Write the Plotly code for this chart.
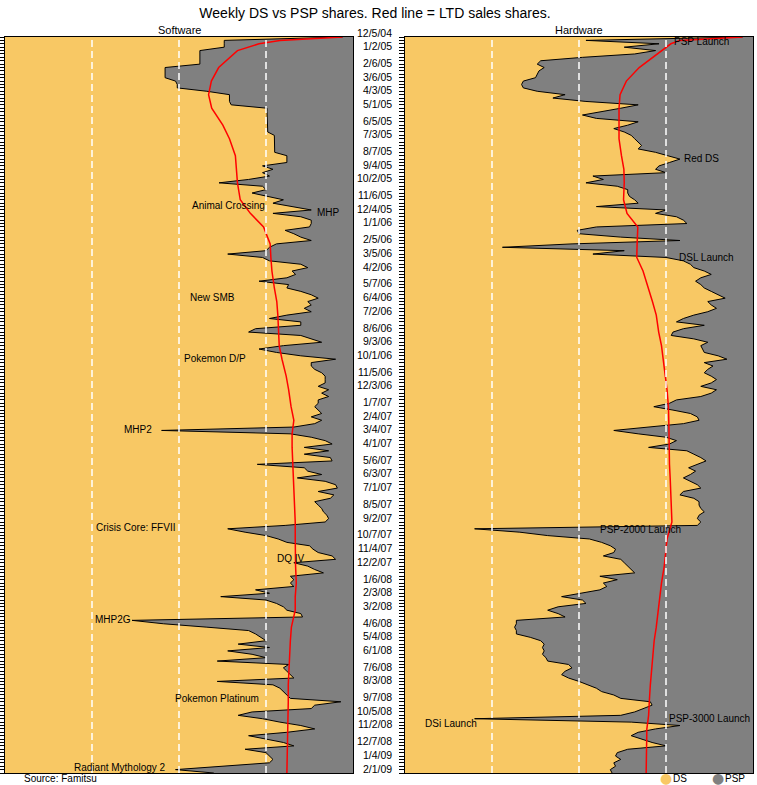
import plotly.graph_objects as go
import pandas as pd

# ---------------- data ----------------
start_date = "12/5/04"
n_weeks = 218

tick_labels = ["12/5/04", "1/2/05", "2/6/05", "3/6/05", "4/3/05", "5/1/05", "6/5/05", "7/3/05",
               "8/7/05", "9/4/05", "10/2/05", "11/6/05", "12/4/05", "1/1/06", "2/5/06", "3/5/06",
               "4/2/06", "5/7/06", "6/4/06", "7/2/06", "8/6/06", "9/3/06", "10/1/06", "11/5/06",
               "12/3/06", "1/7/07", "2/4/07", "3/4/07", "4/1/07", "5/6/07", "6/3/07", "7/1/07",
               "8/5/07", "9/2/07", "10/7/07", "11/4/07", "12/2/07", "1/6/08", "2/3/08", "3/2/08",
               "4/6/08", "5/4/08", "6/1/08", "7/6/08", "8/3/08", "9/7/08", "10/5/08", "11/2/08",
               "12/7/08", "1/4/09", "2/1/09"]

# weekly DS share of DS+PSP software sales (%)
sw_ds = [97, 63, 63, 63, 56, 56, 56, 56, 56, 46,
         46, 46, 46, 49, 49.5, 49.5, 58, 64.5, 64.5, 64.5,
         65, 75.3, 75.3, 75.3, 75.3, 75.3, 75.3, 75.5, 75.5, 77.4,
         77.4, 77.4, 77.4, 77.4, 77.5, 81, 81, 81, 74, 77,
         74, 76, 70, 61.5, 74, 75, 71, 76, 80, 77,
         82, 88, 77, 85, 88, 88, 87.5, 80.5, 83, 85,
         88, 78, 76, 75, 64, 74, 76, 85, 87, 82.5,
         83.5, 81, 73, 81.5, 81, 85, 88, 90, 87, 88,
         86, 88, 81, 76, 85, 85, 72, 70, 85, 88,
         91, 80, 73, 78, 85, 95, 88, 88, 89, 91,
         92, 92, 92, 90, 93, 91, 93, 90, 90, 89,
         90, 91, 88, 91, 89, 83, 45, 82, 88, 92,
         94, 86, 93, 86, 93.5, 94, 72.5, 86, 87, 91,
         84, 92, 95, 95.5, 90, 94.5, 93.5, 89, 90, 91,
         91.5, 92.5, 93, 92, 80.5, 64, 69, 75, 78.5, 81,
         87.5, 88.5, 90, 94, 95, 83, 87, 89, 91.5, 82,
         83, 82, 83, 72, 76, 62, 75, 78, 80, 81,
         85, 85.5, 36.5, 45.5, 58, 70, 72, 73.5, 75, 67,
         76, 64, 71, 75, 61, 81.5, 80, 81, 82, 83,
         61, 77, 79, 80, 81, 82, 96.5, 89, 88, 71,
         67, 74, 79, 85, 89, 81, 70, 75, 80, 83,
         69, 75, 76, 77, 76, 62, 49, 60]

# weekly DS share of DS+PSP hardware sales (%)
hw_ds = [97, 52, 73, 63, 72, 66, 51, 39, 38, 40,
         38.5, 38, 37.5, 34, 33.5, 34, 38, 46, 42.5, 52,
         67, 62, 57, 51, 55, 67, 64, 60, 63, 65,
         66, 67, 68, 67, 72, 75.5, 79, 76, 73, 72,
         75, 54, 57, 52, 61, 64, 64, 64.5, 66, 67,
         55, 75, 72, 78, 80, 81, 55, 49.5, 50, 62,
         79, 48, 28, 63, 54, 75, 80, 82, 83, 86,
         88, 85, 83.5, 85, 86, 88, 90, 92, 87, 88,
         89.5, 87, 83, 80, 78, 86, 80, 77, 76.5, 83,
         87, 85, 85.5, 86, 90, 92.5, 86, 88.5, 87, 86,
         88, 89.5, 88, 85, 89.5, 88, 85, 78, 76, 71.5,
         77, 82, 84, 84.5, 80, 70, 60, 67, 75, 78,
         76, 70, 81, 83, 85, 86.5, 84, 81.5, 83.5, 82,
         80, 82, 84, 85, 80, 79, 83, 84.5, 84.5, 85,
         86, 84.5, 84, 85, 84, 20, 33, 41, 53, 56.5,
         59, 60.5, 60, 57, 62, 63, 64, 65, 66, 56,
         61, 57, 58, 56, 51, 45, 51, 52, 44, 41,
         44, 46, 32, 32, 31.5, 32, 32, 36, 39, 40,
         39.5, 40, 39.5, 40.5, 41, 47, 48, 46, 45, 47,
         50, 52.5, 55, 56.5, 60, 62, 70.5, 71, 68.5, 66,
         62, 20, 65, 79, 72, 67, 65, 68, 71, 75,
         64, 61, 60.5, 62, 60, 60.5, 59, 59.5]

# life-to-date DS share (%)
ltd_dates = ["12/5/04", "12/12/04", "12/19/04"] + tick_labels[1:]
ltd_sw = [97, 79, 73, 66.8, 61.4, 59.3, 58.5, 59.4, 62.6, 64.5, 66.2, 66.6, 66.8, 67.6, 70.5,
          74.3, 76.2, 76.4, 76.7, 77.4, 78.1, 78.4, 78.6, 78.8, 79.6, 80.8, 81.5,
          82.2, 83.0, 82.5, 82.5, 82.7, 82.9, 83.0, 83.2, 83.4, 83.4, 83.4, 83.5,
          83.7, 83.4, 83.4, 82.3, 82.0, 81.8, 81.6, 81.4, 81.4, 81.3, 81.3, 81.2, 81.1, 81.0]
ltd_hw = [97, 79, 76.4, 73.8, 67.3, 63.6, 61.8, 61.5, 61.4, 61.5, 62.2, 62.9, 63.0, 62.8, 63.8,
          66.9, 66.7, 66.6, 68.4, 70.0, 71.1, 72.2, 72.9, 73.7, 74.1, 74.8, 75.3,
          75.7, 75.8, 75.8, 75.8, 76.0, 76.2, 76.4, 76.6, 76.7, 75.3, 74.9, 74.5,
          73.7, 73.3, 72.8, 72.2, 71.6, 71.2, 70.8, 70.5, 70.2, 70.0, 69.5, 69.5, 69.4, 69.3]

grid_shares = [25, 50, 75]

# event labels: (text, share position, week position)
sw_events = [("Animal Crossing", 64.1, 49.6), ("MHP", 93.1, 51.6), ("New SMB", 59.6, 76.7),
             ("Pokemon D/P", 60.3, 94.7), ("MHP2", 38.2, 115.6), ("Crisis Core: FFVII", 37.6, 144.5),
             ("DQ IV", 82.2, 153.7), ("MHP2G", 30.9, 171.7), ("Pokemon Platinum", 60.8, 195.0),
             ("Radiant Mythology 2", 33.0, 215.3)]
hw_events = [("PSP Launch", 85.1, 1.3), ("Red DS", 85.2, 35.7), ("DSL Launch", 86.5, 64.9),
             ("PSP-2000 Launch", 67.8, 145.1), ("DSi Launch", 13.1, 202.4),
             ("PSP-3000 Launch", 87.4, 200.9)]

# ---------------- helpers ----------------
t0 = pd.to_datetime(start_date, format="%m/%d/%y")


def week_of(s):
    return (pd.to_datetime(s, format="%m/%d/%y") - t0).days / 7.0


weeks = list(range(n_weeks))
tick_weeks = [week_of(s) for s in tick_labels]
ltd_weeks = [week_of(s) for s in ltd_dates]

DS_COL = "#F8C864"
PSP_COL = "#808080"
FONT = "Liberation Sans, Arial, sans-serif"

fig = go.Figure()

for data, ltd, xa, ya in [(sw_ds, ltd_sw, "x", "y"), (hw_ds, ltd_hw, "x2", "y2")]:
    fig.add_trace(go.Scatter(x=data, y=weeks, mode="lines", fill="tozerox",
                             fillcolor=DS_COL, line=dict(color="black", width=1),
                             xaxis=xa, yaxis=ya, showlegend=False, hoverinfo="skip"))
    fig.add_trace(go.Scatter(x=ltd, y=ltd_weeks, mode="lines",
                             line=dict(color="red", width=1.5),
                             xaxis=xa, yaxis=ya, showlegend=False, hoverinfo="skip"))

W, H = 757, 785
ml, mr, mt, mb = 5, 4, 37, 12
pw = W - ml - mr
ph = H - mt - mb


def px_to_paper_x(px):
    return (px - ml) / pw


def px_to_paper_y(py):
    return (H - mb - py) / ph


left_dom = [0, px_to_paper_x(353)]
right_dom = [px_to_paper_x(405), 1]

ax_common = dict(range=[0, 100], showgrid=False, zeroline=False, showticklabels=False,
                 ticks="", showline=True, mirror=True, linecolor="black", linewidth=1,
                 fixedrange=True, automargin=False)
yax_common = dict(range=[n_weeks - 1, 0], showgrid=False, zeroline=False, showticklabels=False,
                  tickmode="linear", tick0=0, dtick=1, ticks="outside", ticklen=5,
                  tickcolor="black", tickwidth=1, showline=True, mirror=True,
                  linecolor="black", linewidth=1, fixedrange=True, automargin=False)

shapes = []
for xr in ["x", "x2"]:
    for g in grid_shares:
        shapes.append(dict(type="line", xref=xr, yref="paper", x0=g, x1=g, y0=0, y1=1,
                           line=dict(color="white", width=1.5, dash="7px,4px"), layer="above"))

annotations = []
for text, xs, wk in sw_events:
    annotations.append(dict(text=text, x=xs, y=wk, xref="x", yref="y", showarrow=False,
                            font=dict(size=10, color="black", family=FONT)))
for text, xs, wk in hw_events:
    annotations.append(dict(text=text, x=xs, y=wk, xref="x2", yref="y2", showarrow=False,
                            font=dict(size=10, color="black", family=FONT)))

# date labels between panels (right aligned)
for lab, wk in zip(tick_labels, tick_weeks):
    annotations.append(dict(text=lab, x=px_to_paper_x(394), y=wk, xref="paper", yref="y",
                            xanchor="right", showarrow=False, yshift=4.5,
                            font=dict(size=10.5, color="black", family=FONT)))

# panel titles
annotations.append(dict(text="Software", x=0.5, y=1, xref="x domain", yref="paper",
                        yanchor="bottom", showarrow=False, yshift=-1,
                        font=dict(size=11, color="black", family=FONT)))
annotations.append(dict(text="Hardware", x=0.5, y=1, xref="x2 domain", yref="paper",
                        yanchor="bottom", showarrow=False, yshift=-1,
                        font=dict(size=11, color="black", family=FONT)))

# source
annotations.append(dict(text="Source: Famitsu", x=px_to_paper_x(22), y=px_to_paper_y(778),
                        xref="paper", yref="paper", xanchor="left", yanchor="middle",
                        showarrow=False, font=dict(size=10, color="black", family=FONT)))

# legend
for sym_x, col, txt, txt_x in [(666, DS_COL, "DS", 671), (718, PSP_COL, "PSP", 723)]:
    annotations.append(dict(text="●", x=px_to_paper_x(sym_x), y=px_to_paper_y(778),
                            xref="paper", yref="paper", xanchor="center", yanchor="middle",
                            showarrow=False,
                            font=dict(size=14, color=col, family="DejaVu Sans")))
    annotations.append(dict(text=txt, x=px_to_paper_x(txt_x), y=px_to_paper_y(778),
                            xref="paper", yref="paper", xanchor="left", yanchor="middle",
                            showarrow=False, font=dict(size=10, color="black", family=FONT)))

fig.update_layout(
    width=W, height=H,
    margin=dict(l=ml, r=mr, t=mt, b=mb, pad=0, autoexpand=False),
    paper_bgcolor="white", plot_bgcolor=PSP_COL,
    title=dict(text="Weekly DS vs PSP shares. Red line = LTD sales shares.",
               x=375 / W, xref="container", xanchor="center",
               y=1 - 13 / H, yref="container", yanchor="middle",
               font=dict(size=14, color="black", family=FONT)),
    xaxis=dict(domain=left_dom, anchor="y", **ax_common),
    yaxis=dict(domain=[0, 1], anchor="x", **yax_common),
    xaxis2=dict(domain=right_dom, anchor="y2", **ax_common),
    yaxis2=dict(domain=[0, 1], anchor="x2", **yax_common),
    shapes=shapes,
    annotations=annotations,
    showlegend=False,
)

fig.write_html("out.html", config={"displayModeBar": False},
               post_script="document.body.style.margin='0';document.body.style.overflow='hidden';")
